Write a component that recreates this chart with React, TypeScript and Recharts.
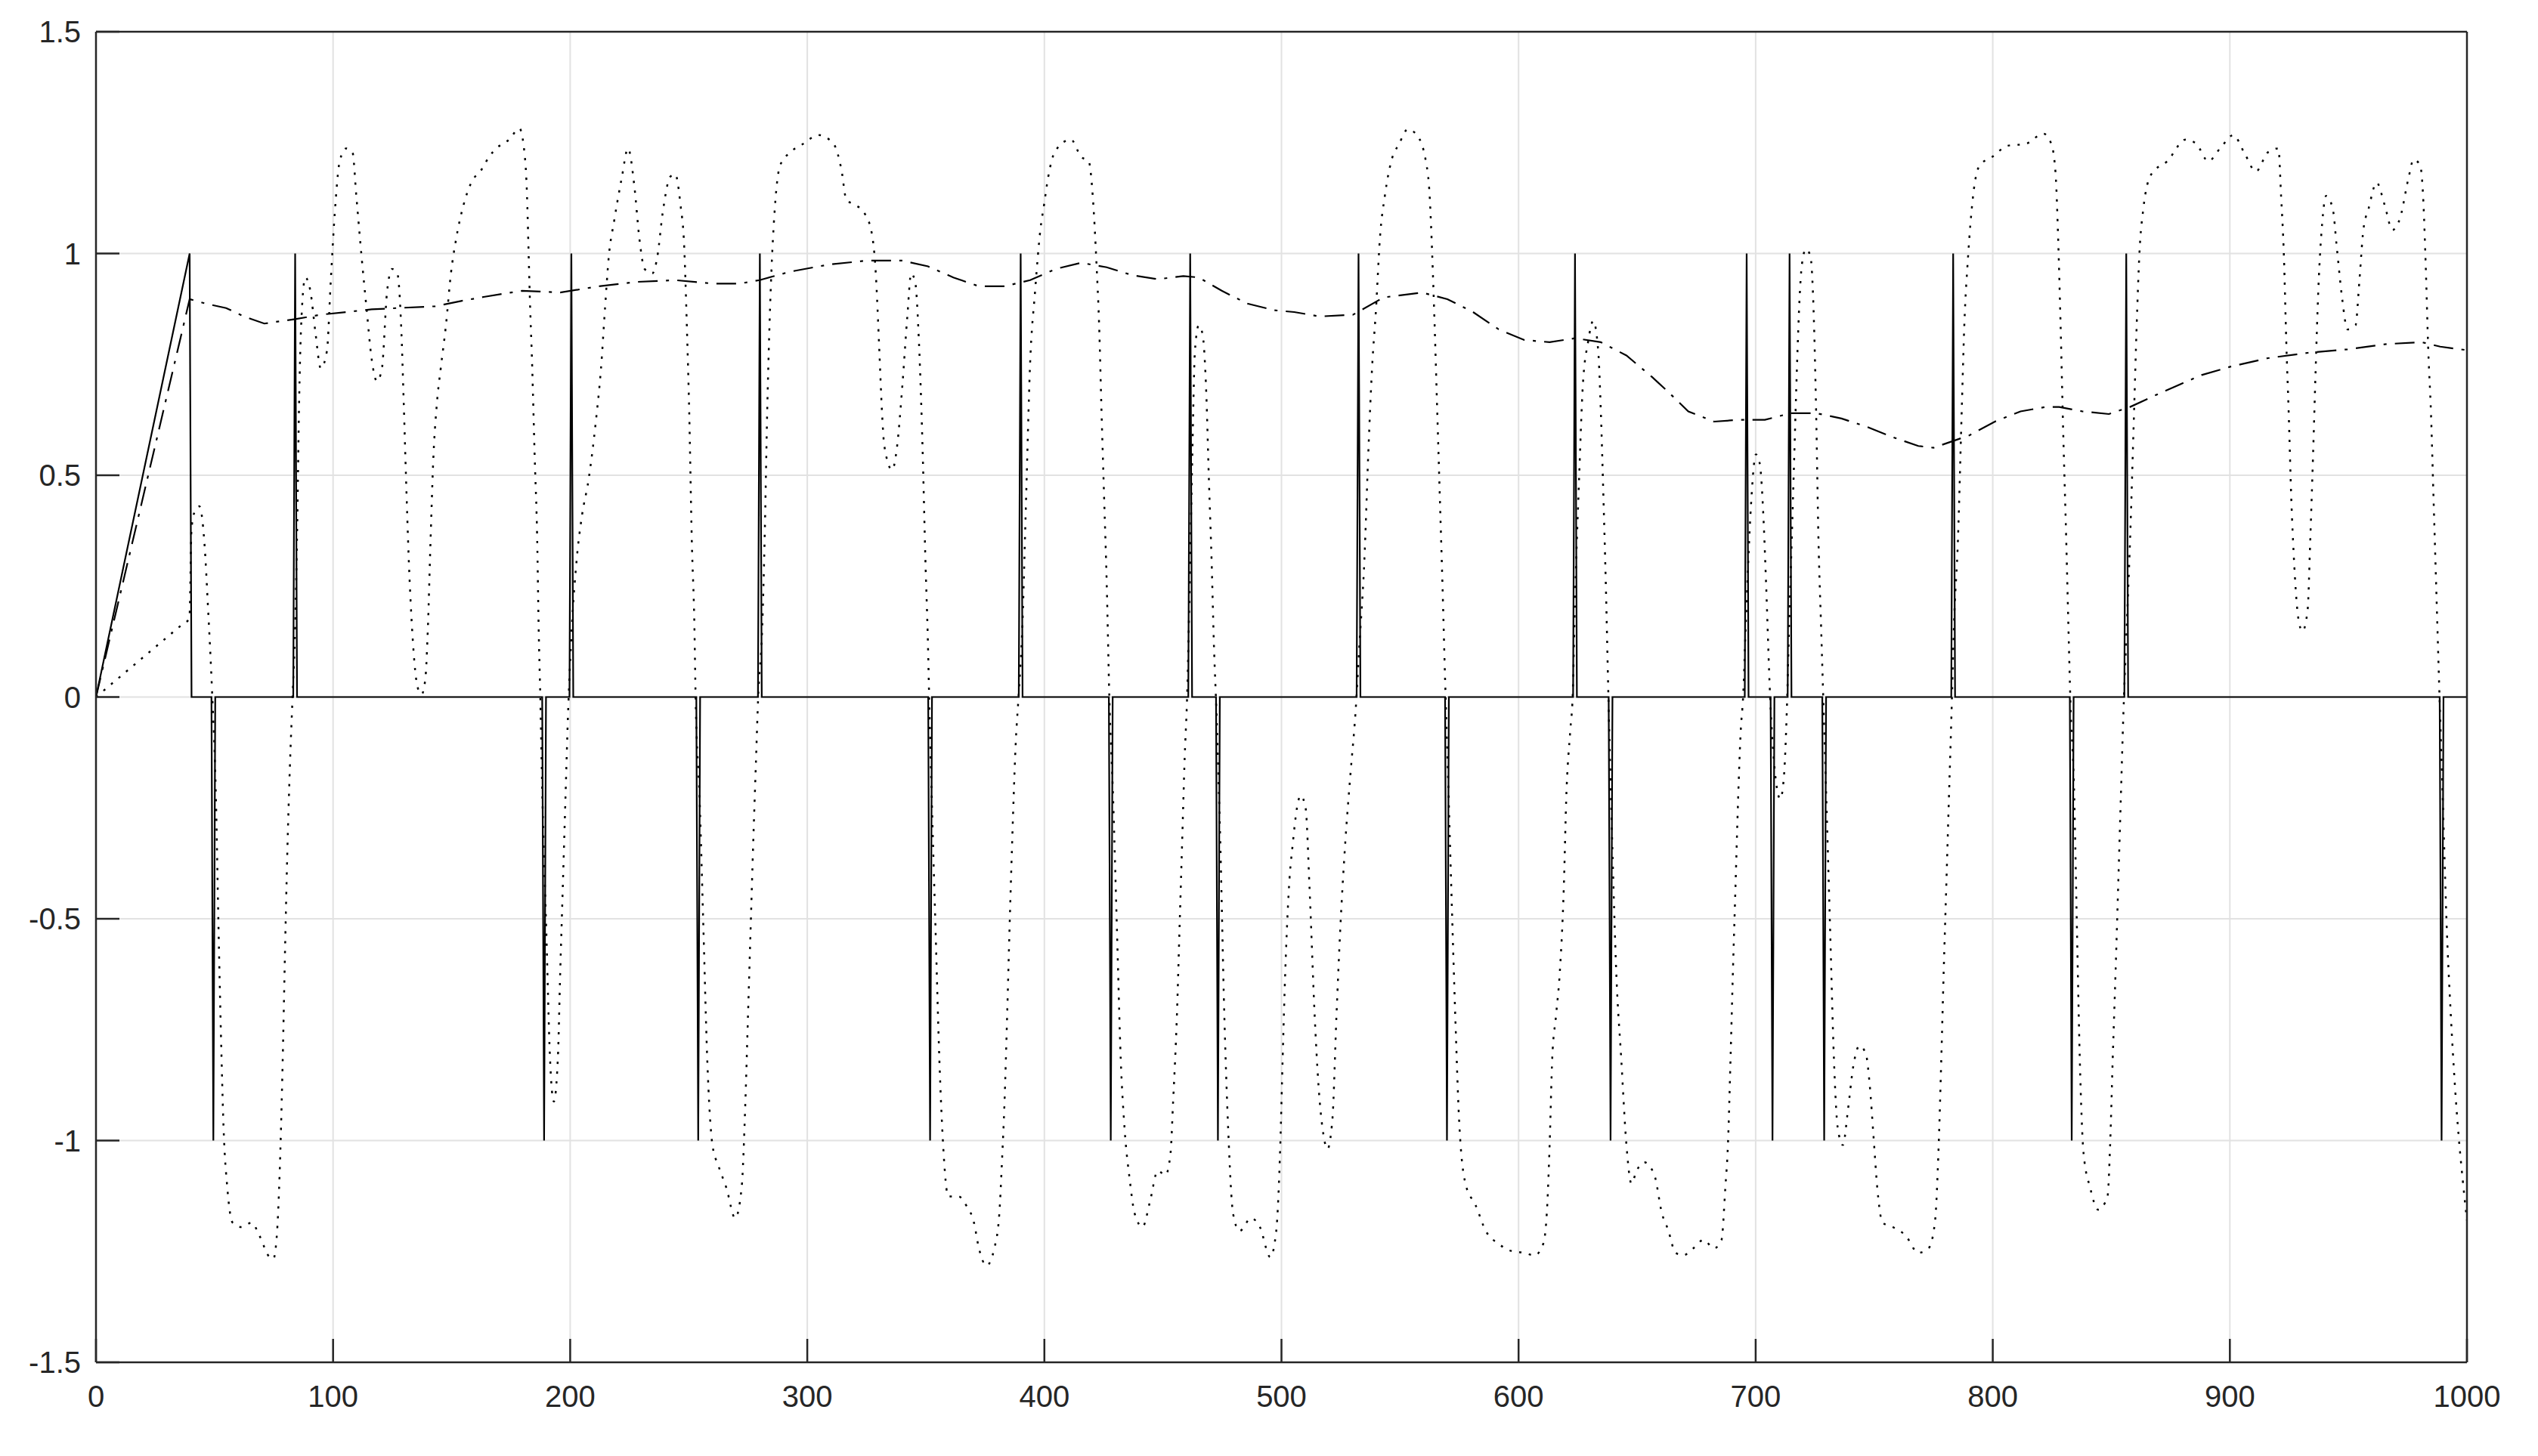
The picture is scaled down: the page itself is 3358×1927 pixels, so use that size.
import { LineChart, Line, XAxis, YAxis, CartesianGrid } from "recharts";

const xTicks = [0, 100, 200, 300, 400, 500, 600, 700, 800, 900, 1000];
const yTicks = [-1.5, -1, -0.5, 0, 0.5, 1, 1.5];

// switching signal: start ramp, then narrow pulses to +1 / -1
const rampTop = 39.5;
const pulseUp = [84, 200.5, 280, 390, 461.5, 532.5, 623.8, 696.2, 714.3, 783.3, 856.3];
const pulseDown = [49.5, 189, 254, 351.8, 428, 473.2, 569.8, 638.8, 707.1, 728.9, 833.3, 989.3];

// slow dash-dot signal
const dashDot: [number, number][] = [
  [0, 0], [39.5, 0.897], [46.3, 0.887], [54.9, 0.877], [62.4, 0.858], [71, 0.842],
  [78.6, 0.848], [84, 0.852], [94.8, 0.862], [105.5, 0.868], [116.3, 0.874], [127, 0.877],
  [143, 0.881], [154, 0.893], [163.5, 0.902], [179.7, 0.916], [195.8, 0.912], [212, 0.926],
  [228.2, 0.936], [244.3, 0.94], [260.5, 0.932], [271.3, 0.932], [279.9, 0.94], [292.8, 0.959],
  [309, 0.975], [325.1, 0.984], [340.1, 0.984], [350.9, 0.971], [361.6, 0.946], [372.4, 0.926],
  [383.2, 0.926], [394, 0.94], [404.7, 0.965], [415.5, 0.979], [426.3, 0.969], [437.1, 0.951],
  [447.8, 0.942], [458.6, 0.949], [465.1, 0.946], [474.8, 0.916], [485.6, 0.887], [497, 0.872],
  [505.4, 0.868], [516.2, 0.858], [530.2, 0.862], [543.1, 0.901], [559.3, 0.912], [570, 0.897],
  [580.8, 0.868], [591.6, 0.829], [602.4, 0.805], [613.1, 0.8], [623.9, 0.809], [634.7, 0.8],
  [645.5, 0.77], [656.2, 0.722], [662.7, 0.69], [671.6, 0.644], [682.4, 0.621], [693.1, 0.625],
  [703.9, 0.625], [714.7, 0.64], [725.5, 0.64], [736.2, 0.628], [747, 0.609], [757.8, 0.586],
  [768.6, 0.566], [775, 0.562], [782.6, 0.576], [790.1, 0.59], [800.9, 0.621], [811.7, 0.644],
  [822.4, 0.654], [828, 0.654], [837.8, 0.644], [849, 0.638], [857.9, 0.654], [871.3, 0.687],
  [888.1, 0.726], [900.4, 0.745], [916, 0.764], [932.8, 0.776], [949.6, 0.784], [966.4, 0.796],
  [980.9, 0.8], [988.7, 0.79], [1000, 0.782],
];

// fast dotted signal
const dotted: [number, number][] = [
  [0, 0], [10, 0.045], [20, 0.09], [30, 0.135], [36, 0.162], [39.4, 0.177], [40.3, 0.38],
  [41.8, 0.42], [43.6, 0.43], [45.7, 0.35], [47.3, 0.197],
  [48.9, 0.02], [50.6, -0.23], [51.6, -0.5], [52.7, -0.76], [53.8, -0.97], [55.4, -1.107],
  [57.6, -1.185], [61.3, -1.195], [65.7, -1.185], [68.9, -1.214], [73.2, -1.263], [74.8, -1.267],
  [76.4, -1.204], [77.5, -1.068], [78.6, -0.854], [79.7, -0.58], [80.7, -0.35], [81.8, -0.154],
  [82.9, 0], [84, 0.158], [85, 0.43], [85.6, 0.644], [86.7, 0.858], [88.3, 0.946], [90.4, 0.916],
  [92.6, 0.82], [94.8, 0.741], [97.4, 0.78], [99, 0.936], [100.7, 1.09], [102.8, 1.208],
  [105.5, 1.237], [108.2, 1.228], [109.8, 1.13], [112, 0.994], [114.1, 0.877], [116.3, 0.761],
  [118.5, 0.712], [120.6, 0.741], [122.8, 0.916], [124.9, 0.965], [127.1, 0.955], [128.7, 0.838],
  [129.8, 0.663], [130.8, 0.488], [131.9, 0.313], [133.5, 0.138], [135.7, 0.021], [137.3, 0.006],
  [138.9, 0.04], [140, 0.158], [141.1, 0.352], [142.2, 0.527], [143.8, 0.663], [145.4, 0.741],
  [147.6, 0.838], [149.7, 0.955], [151.9, 1.033], [155.1, 1.111], [158.3, 1.16], [162.6, 1.189],
  [165.8, 1.218], [168.9, 1.237], [174.3, 1.257], [178.6, 1.282], [180.7, 1.228], [181.8, 1.13],
  [182.4, 1.014], [182.9, 0.916], [184, 0.741], [185, 0.547], [186.1, 0.352], [186.7, 0.158],
  [187.4, 0], [188.3, -0.23], [189.9, -0.523], [191.5, -0.815], [193.1, -0.912], [194.8, -0.815],
  [195.8, -0.62], [196.9, -0.426], [198, -0.23], [199.1, -0.037], [200.7, 0.158], [202.8, 0.313],
  [205, 0.41], [207.7, 0.488], [210.9, 0.625], [213, 0.741], [214.7, 0.877], [216.3, 0.994],
  [218.5, 1.072], [221.7, 1.169], [224.4, 1.237], [227.1, 1.15], [229.2, 1.033], [231.4, 0.965],
  [234.6, 0.955], [236.8, 0.994], [239, 1.091], [242.2, 1.173], [244.3, 1.179], [246.5, 1.111],
  [248.1, 1.014], [249.2, 0.838], [250.2, 0.644], [251.3, 0.352], [252.4, 0.158], [252.9, 0],
  [254.6, -0.23], [256.2, -0.523], [257.8, -0.815], [260, -1.01], [262.6, -1.058], [265.9, -1.107],
  [269.6, -1.175], [272.3, -1.107], [273.9, -0.912], [275, -0.718], [276.1, -0.523], [277.2, -0.329],
  [278.3, -0.154], [279.3, 0], [281, 0.158], [282, 0.352], [283.1, 0.644], [284.7, 0.936],
  [286.3, 1.101], [288.5, 1.198], [292.8, 1.228], [298.2, 1.247], [304.7, 1.267], [311.1, 1.247],
  [314.4, 1.189], [316.5, 1.121], [319.7, 1.111], [324.1, 1.091], [327.3, 1.043], [328.9, 0.955],
  [330.4, 0.78], [331.5, 0.644], [332.5, 0.566], [335.8, 0.512], [337.9, 0.566], [340.1, 0.702],
  [342.2, 0.858], [343.8, 0.955], [345.5, 0.936], [347.1, 0.8], [348.7, 0.547], [349.8, 0.313],
  [350.9, 0.119], [351.4, 0], [352.5, -0.23], [354.1, -0.523], [355.7, -0.815], [357.3, -1.01],
  [359.5, -1.126], [363.8, -1.126], [367, -1.146], [370.3, -1.185], [372.4, -1.243], [375.6, -1.282],
  [378.9, -1.243], [381, -1.165], [382.1, -1.049], [383.2, -0.912], [384.3, -0.718], [385.3, -0.523],
  [386.4, -0.329], [388, -0.095], [389.1, 0], [390.7, 0.158], [392.3, 0.449], [393.9, 0.741],
  [396.1, 0.916], [398.3, 1.053], [399.9, 1.111], [401.5, 1.169], [404.7, 1.232], [411.2, 1.257],
  [415.5, 1.218], [418.7, 1.208], [420.4, 1.13], [422, 0.975], [423.1, 0.838], [424.1, 0.644],
  [425.2, 0.449], [426.3, 0.255], [427.4, 0], [429, -0.23], [430.6, -0.523], [432.2, -0.815],
  [433.8, -0.971], [436, -1.088], [438.1, -1.165], [441.4, -1.195], [444.6, -1.136], [447.8, -1.068],
  [451.1, -1.078], [453.2, -1.029], [454.3, -0.912], [455.9, -0.718], [457, -0.523], [458.1, -0.329],
  [459.2, -0.134], [460.2, 0], [461.3, 0.255], [462.4, 0.547], [463.5, 0.78], [465.1, 0.838],
  [466.7, 0.819], [468.3, 0.683], [469.4, 0.488], [470.5, 0.313], [471.5, 0.119], [472.6, -0.037],
  [474.2, -0.329], [475.9, -0.718], [477.5, -0.971], [479.6, -1.165], [482.3, -1.204], [487.2, -1.175],
  [490.9, -1.195], [495.3, -1.263], [497.8, -1.204], [499.5, -1.01], [500.5, -0.815], [501.6, -0.62],
  [503.2, -0.426], [504.8, -0.329], [506.5, -0.251], [508.1, -0.222], [510.2, -0.251], [511.8, -0.426],
  [514, -0.718], [515.6, -0.874], [517.8, -0.99], [519.4, -1.019], [521.5, -0.951], [523.2, -0.718],
  [524.8, -0.523], [526.9, -0.329], [529.1, -0.173], [531.2, -0.037], [532.9, 0.119], [535, 0.313],
  [536.6, 0.547], [538.2, 0.741], [539.9, 0.877], [541.5, 1.033], [543.6, 1.13], [546.3, 1.208],
  [549.6, 1.247], [553.3, 1.28], [557.1, 1.267], [560.9, 1.208], [562.5, 1.13], [563.6, 0.994],
  [564.6, 0.838], [565.7, 0.644], [566.8, 0.449], [567.9, 0.255], [569, 0.041], [570, -0.134],
  [571.6, -0.426], [573.3, -0.718], [574.9, -0.951], [577.6, -1.097], [581.9, -1.146], [586.2, -1.204],
  [591.6, -1.233], [597, -1.249], [602.4, -1.253], [606.7, -1.259], [610.4, -1.233], [612.1, -1.146],
  [613.1, -1.01], [614.2, -0.815], [615.8, -0.718], [617.4, -0.62], [619.1, -0.426], [620.1, -0.23],
  [621.8, -0.076], [622.8, 0], [623.9, 0.235], [625.5, 0.488], [627.1, 0.702], [629.3, 0.8],
  [631.5, 0.848], [633.6, 0.78], [634.7, 0.644], [635.8, 0.449], [636.8, 0.255], [637.9, 0],
  [639.5, -0.329], [641.2, -0.62], [643.3, -0.815], [645.5, -1.01], [647.6, -1.097], [649.8, -1.068],
  [653, -1.049], [657.3, -1.078], [660.5, -1.165], [663, -1.2], [666.2, -1.253], [669.4, -1.259],
  [673.7, -1.243], [678, -1.224], [682.4, -1.243], [685.6, -1.224], [687.2, -1.107], [688.3, -1.01],
  [689.4, -0.815], [690.4, -0.62], [691.5, -0.426], [692.6, -0.23], [693.7, -0.076], [694.7, 0],
  [695.8, 0.158], [698, 0.43], [700.1, 0.547], [701.7, 0.527], [703.4, 0.391], [704.4, 0.255],
  [706.1, 0], [708.2, -0.173], [710.4, -0.23], [712, -0.173], [713.1, -0.037], [714.1, 0.158],
  [715.2, 0.352], [716.3, 0.547], [717.4, 0.741], [718.5, 0.897], [719.5, 0.975], [721.2, 1.01],
  [723.1, 0.994], [724.4, 0.877], [725.5, 0.644], [726.5, 0.352], [727.6, 0.158], [728.5, 0],
  [729.8, -0.23], [731.4, -0.523], [733, -0.815], [734.6, -0.971], [736.8, -1.01], [738.9, -0.932],
  [741.1, -0.835], [743.8, -0.786], [746.5, -0.805], [748.1, -0.874], [749.7, -0.99], [751.3, -1.107],
  [753.5, -1.185], [757.8, -1.195], [763.2, -1.214], [768.6, -1.253], [772.9, -1.243], [775.6, -1.185],
  [777.2, -1.01], [778.3, -0.815], [779.3, -0.62], [780.4, -0.426], [781.5, -0.23], [782.6, -0.037],
  [783.6, 0.158], [785.3, 0.352], [786.9, 0.644], [788, 0.838], [789.6, 0.994], [791.7, 1.13],
  [794.4, 1.198], [799.8, 1.218], [806.3, 1.243], [813.8, 1.247], [821.4, 1.27], [824.7, 1.247],
  [826.5, 1.18], [827.6, 1.03], [828.6, 0.84], [829.7, 0.6], [831, 0.352], [832.1, 0.119],
  [832.7, 0], [834.4, -0.23], [835.5, -0.523], [836.7, -0.815], [838.3, -1.029], [841.1, -1.107],
  [844.5, -1.156], [848.4, -1.126], [849.5, -1.01], [850.6, -0.815], [851.8, -0.62], [852.9, -0.426],
  [854, -0.23], [855.1, -0.037], [856.2, 0.119], [857.9, 0.352], [859.6, 0.644], [860.7, 0.838],
  [861.8, 0.994], [863.5, 1.101], [866.9, 1.179], [873.6, 1.208], [881.4, 1.257], [885.9, 1.247],
  [890.9, 1.208], [895.9, 1.237], [901.5, 1.267], [906, 1.228], [911, 1.185], [916, 1.228],
  [920.5, 1.237], [921.6, 1.13], [922.8, 0.994], [923.8, 0.8], [924.8, 0.644], [925.9, 0.449],
  [927.2, 0.294], [928.9, 0.177], [930.6, 0.148], [932.8, 0.196], [933.9, 0.352], [935.1, 0.547],
  [936.2, 0.741], [937.3, 0.916], [939, 1.072], [940.6, 1.13], [943.4, 1.101], [945.1, 1.014],
  [947.4, 0.897], [949.6, 0.829], [953, 0.838], [954.6, 0.936], [956.3, 1.053], [958.5, 1.101],
  [961.9, 1.16], [965.2, 1.111], [968.6, 1.053], [971.9, 1.082], [975.3, 1.169], [977.5, 1.212],
  [980.3, 1.198], [981.5, 1.13], [982.6, 0.975], [983.7, 0.78], [984.8, 0.644], [985.9, 0.449],
  [987, 0.255], [988.2, 0.041], [989.8, -0.23], [991.5, -0.523], [993.2, -0.718], [994.9, -0.874],
  [996.5, -0.99], [998.2, -1.088], [1000, -1.18],
];

const toRows = (pts: [number, number][]) => pts.map(([x, y]) => ({ x, y }));

function switchingRows() {
  const rows = [
    { x: 0, y: 0 },
    { x: rampTop, y: 1 },
    { x: rampTop + 0.8, y: 0 },
  ];
  const events = [
    ...pulseUp.map((p) => [p, 1]),
    ...pulseDown.map((p) => [p, -1]),
  ].sort((a, b) => a[0] - b[0]);
  for (const [p, s] of events) {
    rows.push({ x: p - 0.8, y: 0 }, { x: p, y: s }, { x: p + 0.8, y: 0 });
  }
  rows.push({ x: 1000, y: 0 });
  return rows;
}

const AXIS = "#262626";
const tickFont = { fill: AXIS, fontSize: 40, fontFamily: "Liberation Sans, Arial, Helvetica, sans-serif" };
const axisLine = { stroke: AXIS, strokeWidth: 2.5 };
const tickLine = { stroke: AXIS, strokeWidth: 2.5 };

export default function App() {
  return (
    <div style={{ width: 3340, height: 1905, background: "#fff" }}>
      <LineChart width={3340} height={1905} margin={{ top: 33, right: 83, bottom: 0, left: 0 }}>
        <CartesianGrid stroke="#e2e2e2" strokeWidth={2} />
        <XAxis
          type="number"
          dataKey="x"
          domain={[0, 1000]}
          ticks={xTicks}
          interval={0}
          height={110}
          tickSize={-31}
          tickMargin={62}
          tick={tickFont}
          axisLine={axisLine}
          tickLine={tickLine}
          allowDataOverflow
        />
        <XAxis
          xAxisId="top"
          orientation="top"
          type="number"
          dataKey="x"
          domain={[0, 1000]}
          ticks={xTicks}
          interval={0}
          height={1}
          tickSize={-31}
          tick={false}
          axisLine={axisLine}
          tickLine={tickLine}
          allowDataOverflow
        />
        <YAxis
          type="number"
          domain={[-1.5, 1.5]}
          ticks={yTicks}
          interval={0}
          width={119}
          tickSize={-31}
          tickMargin={51}
          tick={tickFont}
          axisLine={axisLine}
          tickLine={tickLine}
          allowDataOverflow
        />
        <YAxis
          yAxisId="right"
          orientation="right"
          type="number"
          domain={[-1.5, 1.5]}
          ticks={yTicks}
          interval={0}
          width={1}
          tickSize={-31}
          tick={false}
          axisLine={axisLine}
          tickLine={tickLine}
          allowDataOverflow
        />
        <Line
          data={switchingRows()}
          dataKey="y"
          type="linear"
          stroke="#000"
          strokeWidth={2.2}
          dot={false}
          activeDot={false}
          isAnimationActive={false}
        />
        <Line
          data={toRows(dashDot)}
          dataKey="y"
          type="linear"
          stroke="#000"
          strokeWidth={2.2}
          strokeDasharray="26 11 4 11"
          dot={false}
          activeDot={false}
          isAnimationActive={false}
        />
        <Line
          data={toRows(dotted)}
          dataKey="y"
          type="monotone"
          stroke="#000"
          strokeWidth={2.5}
          strokeDasharray="3 10"
          dot={false}
          activeDot={false}
          isAnimationActive={false}
        />
      </LineChart>
    </div>
  );
}
